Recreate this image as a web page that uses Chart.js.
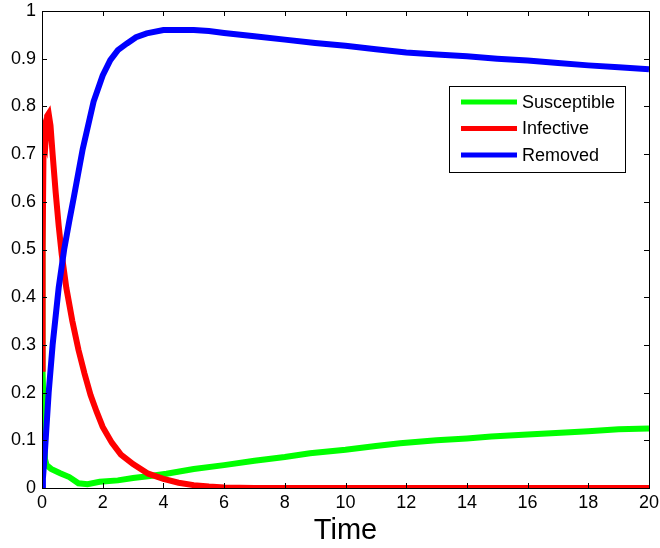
<!DOCTYPE html>
<html>
<head>
<meta charset="utf-8">
<script src="https://cdn.jsdelivr.net/npm/chart.js@4"></script>
<style>
  html, body { margin: 0; padding: 0; background: #fff; }
  #wrap { width: 660px; height: 548px; position: relative; }
</style>
</head>
<body>
<div id="wrap"><canvas id="chart"></canvas></div>
<script>
// SIR model fractions over time
const sTime = [0, 0.01, 0.02, 0.06, 0.1, 0.15, 0.3, 0.6, 0.9, 1.2, 1.5, 1.9, 2.5, 3.0, 3.56, 4.1, 5, 6, 7, 8, 8.83, 10, 11, 11.8, 13, 14, 14.8, 16, 17.4, 18, 19, 20];
const sValues = [0.75, 0.5, 0.25, 0.15, 0.06, 0.048, 0.04, 0.031, 0.023, 0.01, 0.008, 0.013, 0.016, 0.021, 0.025, 0.03, 0.04, 0.048, 0.057, 0.065, 0.073, 0.08, 0.088, 0.094, 0.1, 0.104, 0.108, 0.112, 0.117, 0.119, 0.123, 0.125];

const iTime = [0, 0.02, 0.05, 0.08, 0.12, 0.17, 0.22, 0.28, 0.35, 0.45, 0.55, 0.65, 0.8, 1.0, 1.2, 1.4, 1.6, 1.8, 2.0, 2.3, 2.6, 3.0, 3.5, 4.0, 4.5, 5.0, 5.5, 6.0, 7, 8, 10, 12, 14, 16, 18, 20];
const iValues = [0.25, 0.5, 0.71, 0.74, 0.73, 0.78, 0.785, 0.76, 0.70, 0.62, 0.55, 0.49, 0.42, 0.35, 0.29, 0.24, 0.195, 0.16, 0.128, 0.095, 0.07, 0.05, 0.03, 0.019, 0.011, 0.006, 0.003, 0.001, 0, 0, 0, 0, 0, 0, 0, 0];

const rTime = [0, 0.03, 0.1, 0.22, 0.35, 0.55, 0.73, 0.9, 1.05, 1.34, 1.7, 2.0, 2.25, 2.5, 2.8, 3.1, 3.45, 4.0, 5.0, 5.5, 6, 7, 8, 9, 10, 11, 12, 13, 14, 15, 16, 17, 18, 19, 20];
const rValues = [0, 0.02, 0.08, 0.2, 0.3, 0.42, 0.5, 0.56, 0.61, 0.71, 0.81, 0.865, 0.897, 0.918, 0.932, 0.945, 0.953, 0.96, 0.96, 0.958, 0.954, 0.947, 0.94, 0.933, 0.927, 0.92, 0.913, 0.909, 0.905, 0.9, 0.896, 0.891, 0.886, 0.882, 0.878];

const seriesNames = ["Susceptible", "Infective", "Removed"];
const seriesColors = ["#00ff00", "#ff0000", "#0000ff"];
const xTicks = [0, 2, 4, 6, 8, 10, 12, 14, 16, 18, 20];
const yTicks = [0, 0.1, 0.2, 0.3, 0.4, 0.5, 0.6, 0.7, 0.8, 0.9, 1];

const FONT = "\"Liberation Sans\", Arial, Helvetica, sans-serif";

function toPoints(times, values) {
  return times.map((t, i) => ({ x: t, y: values[i] }));
}

// box around the plot with inward tick marks on all four sides
const boxAxes = {
  id: "boxAxes",
  afterDatasetsDraw(chart) {
    const { ctx, chartArea: a, scales } = chart;
    const len = 5;
    ctx.save();
    ctx.strokeStyle = "#000";
    ctx.lineWidth = 1;
    ctx.beginPath();
    xTicks.forEach((v) => {
      const px = Math.round(scales.x.getPixelForValue(v)) + 0.5;
      ctx.moveTo(px, a.bottom);
      ctx.lineTo(px, a.bottom - len);
      ctx.moveTo(px, a.top);
      ctx.lineTo(px, a.top + len);
    });
    yTicks.forEach((v) => {
      const py = Math.round(scales.y.getPixelForValue(v)) + 0.5;
      ctx.moveTo(a.left, py);
      ctx.lineTo(a.left + len, py);
      ctx.moveTo(a.right, py);
      ctx.lineTo(a.right - len, py);
    });
    ctx.stroke();
    ctx.strokeRect(Math.round(a.left) + 0.5, Math.round(a.top) + 0.5,
      Math.round(a.right - a.left), Math.round(a.bottom - a.top));
    ctx.restore();
  }
};

// legend box inside the plot, upper right
const boxLegend = {
  id: "boxLegend",
  afterDraw(chart) {
    const { ctx } = chart;
    const x0 = 449, y0 = 86, w = 176, h = 86;
    const rowY = [102, 128.5, 155];
    ctx.save();
    ctx.fillStyle = "#fff";
    ctx.fillRect(x0, y0, w, h);
    ctx.strokeStyle = "#000";
    ctx.lineWidth = 1;
    ctx.strokeRect(x0 + 0.5, y0 + 0.5, w, h);
    ctx.font = "18px " + FONT;
    ctx.textBaseline = "middle";
    chart.data.datasets.forEach((ds, i) => {
      ctx.strokeStyle = ds.borderColor;
      ctx.lineWidth = 5;
      ctx.beginPath();
      ctx.moveTo(461, rowY[i]);
      ctx.lineTo(517, rowY[i]);
      ctx.stroke();
      ctx.fillStyle = "#000";
      ctx.fillText(ds.label, 522, rowY[i] + 1);
    });
    ctx.restore();
  }
};

const datasets = [
  toPoints(sTime, sValues),
  toPoints(iTime, iValues),
  toPoints(rTime, rValues)
].map((data, i) => ({
  label: seriesNames[i],
  data,
  borderColor: seriesColors[i],
  backgroundColor: seriesColors[i],
  borderWidth: 6,
  pointRadius: 0,
  tension: 0,
  fill: false,
  order: 3 - i
}));

new Chart(document.getElementById("chart"), {
  type: "line",
  data: { datasets },
  options: {
    animation: false,
    responsive: true,
    maintainAspectRatio: false,
    devicePixelRatio: 1,
    layout: { padding: { top: 11, right: 11, left: 0, bottom: 0 } },
    plugins: {
      legend: { display: false },
      tooltip: { enabled: false }
    },
    scales: {
      x: {
        type: "linear",
        min: 0,
        max: 20,
        afterBuildTicks(scale) {
          scale.ticks = xTicks.map((v) => ({ value: v }));
        },
        afterFit(scale) {
          scale.height = 60;
          scale.paddingLeft = 0;
          scale.paddingRight = 0;
        },
        grid: { display: false, drawTicks: false },
        border: { display: false },
        ticks: {
          color: "#000",
          padding: 4,
          maxRotation: 0,
          font: { family: FONT, size: 18 },
          callback: (v) => String(v)
        },
        title: {
          display: true,
          text: "Time",
          color: "#000",
          font: { family: FONT, size: 29 },
          padding: { top: 0, bottom: 0 }
        }
      },
      y: {
        type: "linear",
        min: 0,
        max: 1,
        afterBuildTicks(scale) {
          scale.ticks = yTicks.map((v) => ({ value: v }));
        },
        afterFit(scale) {
          scale.width = 42;
          scale.paddingTop = 0;
          scale.paddingBottom = 0;
        },
        grid: { display: false, drawTicks: false },
        border: { display: false },
        ticks: {
          color: "#000",
          padding: 6,
          font: { family: FONT, size: 18 },
          callback: (v) => String(Number(v.toFixed(1)))
        }
      }
    }
  },
  plugins: [boxAxes, boxLegend]
});
</script>
</body>
</html>
